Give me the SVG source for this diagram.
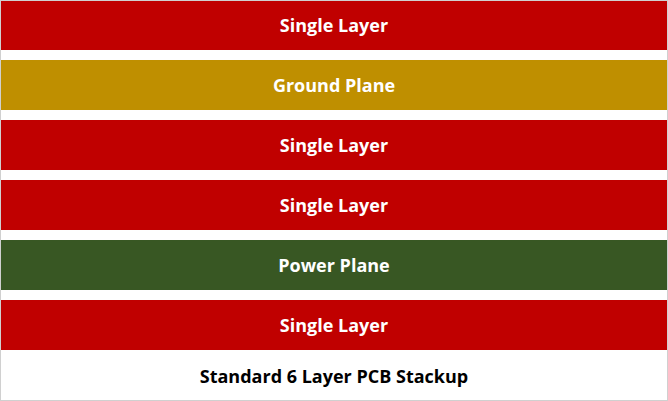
<svg xmlns="http://www.w3.org/2000/svg" width="668" height="401" viewBox="0 0 668 401">
<style>
.lbl{font-family:"Open Sans","Noto Sans","Liberation Sans",sans-serif;font-weight:bold;font-size:18px;fill:#ffffff;text-anchor:middle;dominant-baseline:central}
.ttl{font-family:"Open Sans","Noto Sans","Liberation Sans",sans-serif;font-weight:bold;font-size:18px;fill:#000000;text-anchor:middle;dominant-baseline:central}
.red{fill:#C00000}
.gold{fill:#BF8F00}
.green{fill:#385723}
</style>
<rect x="0" y="0" width="668" height="401" fill="#ffffff"/>
<rect x="0.5" y="0.5" width="667" height="400" fill="none" stroke="#d0d0d0" stroke-width="1"/>
<g id="layer1"><rect class="red" x="1" y="1" width="666" height="49"/><text class="lbl" x="334" y="24.5">Single Layer</text></g>
<g id="layer2"><rect class="gold" x="1" y="60" width="666" height="50"/><text class="lbl" x="334" y="84.5">Ground Plane</text></g>
<g id="layer3"><rect class="red" x="1" y="120" width="666" height="50"/><text class="lbl" x="334" y="144.5">Single Layer</text></g>
<g id="layer4"><rect class="red" x="1" y="180" width="666" height="50"/><text class="lbl" x="334" y="204.5">Single Layer</text></g>
<g id="layer5"><rect class="green" x="1" y="240" width="666" height="50"/><text class="lbl" x="334" y="264.5">Power Plane</text></g>
<g id="layer6"><rect class="red" x="1" y="300" width="666" height="50"/><text class="lbl" x="334" y="324.5">Single Layer</text></g>
<g id="title"><text class="ttl" x="334" y="375.5">Standard 6 Layer PCB Stackup</text></g>
<g id="connectors"></g>
</svg>
